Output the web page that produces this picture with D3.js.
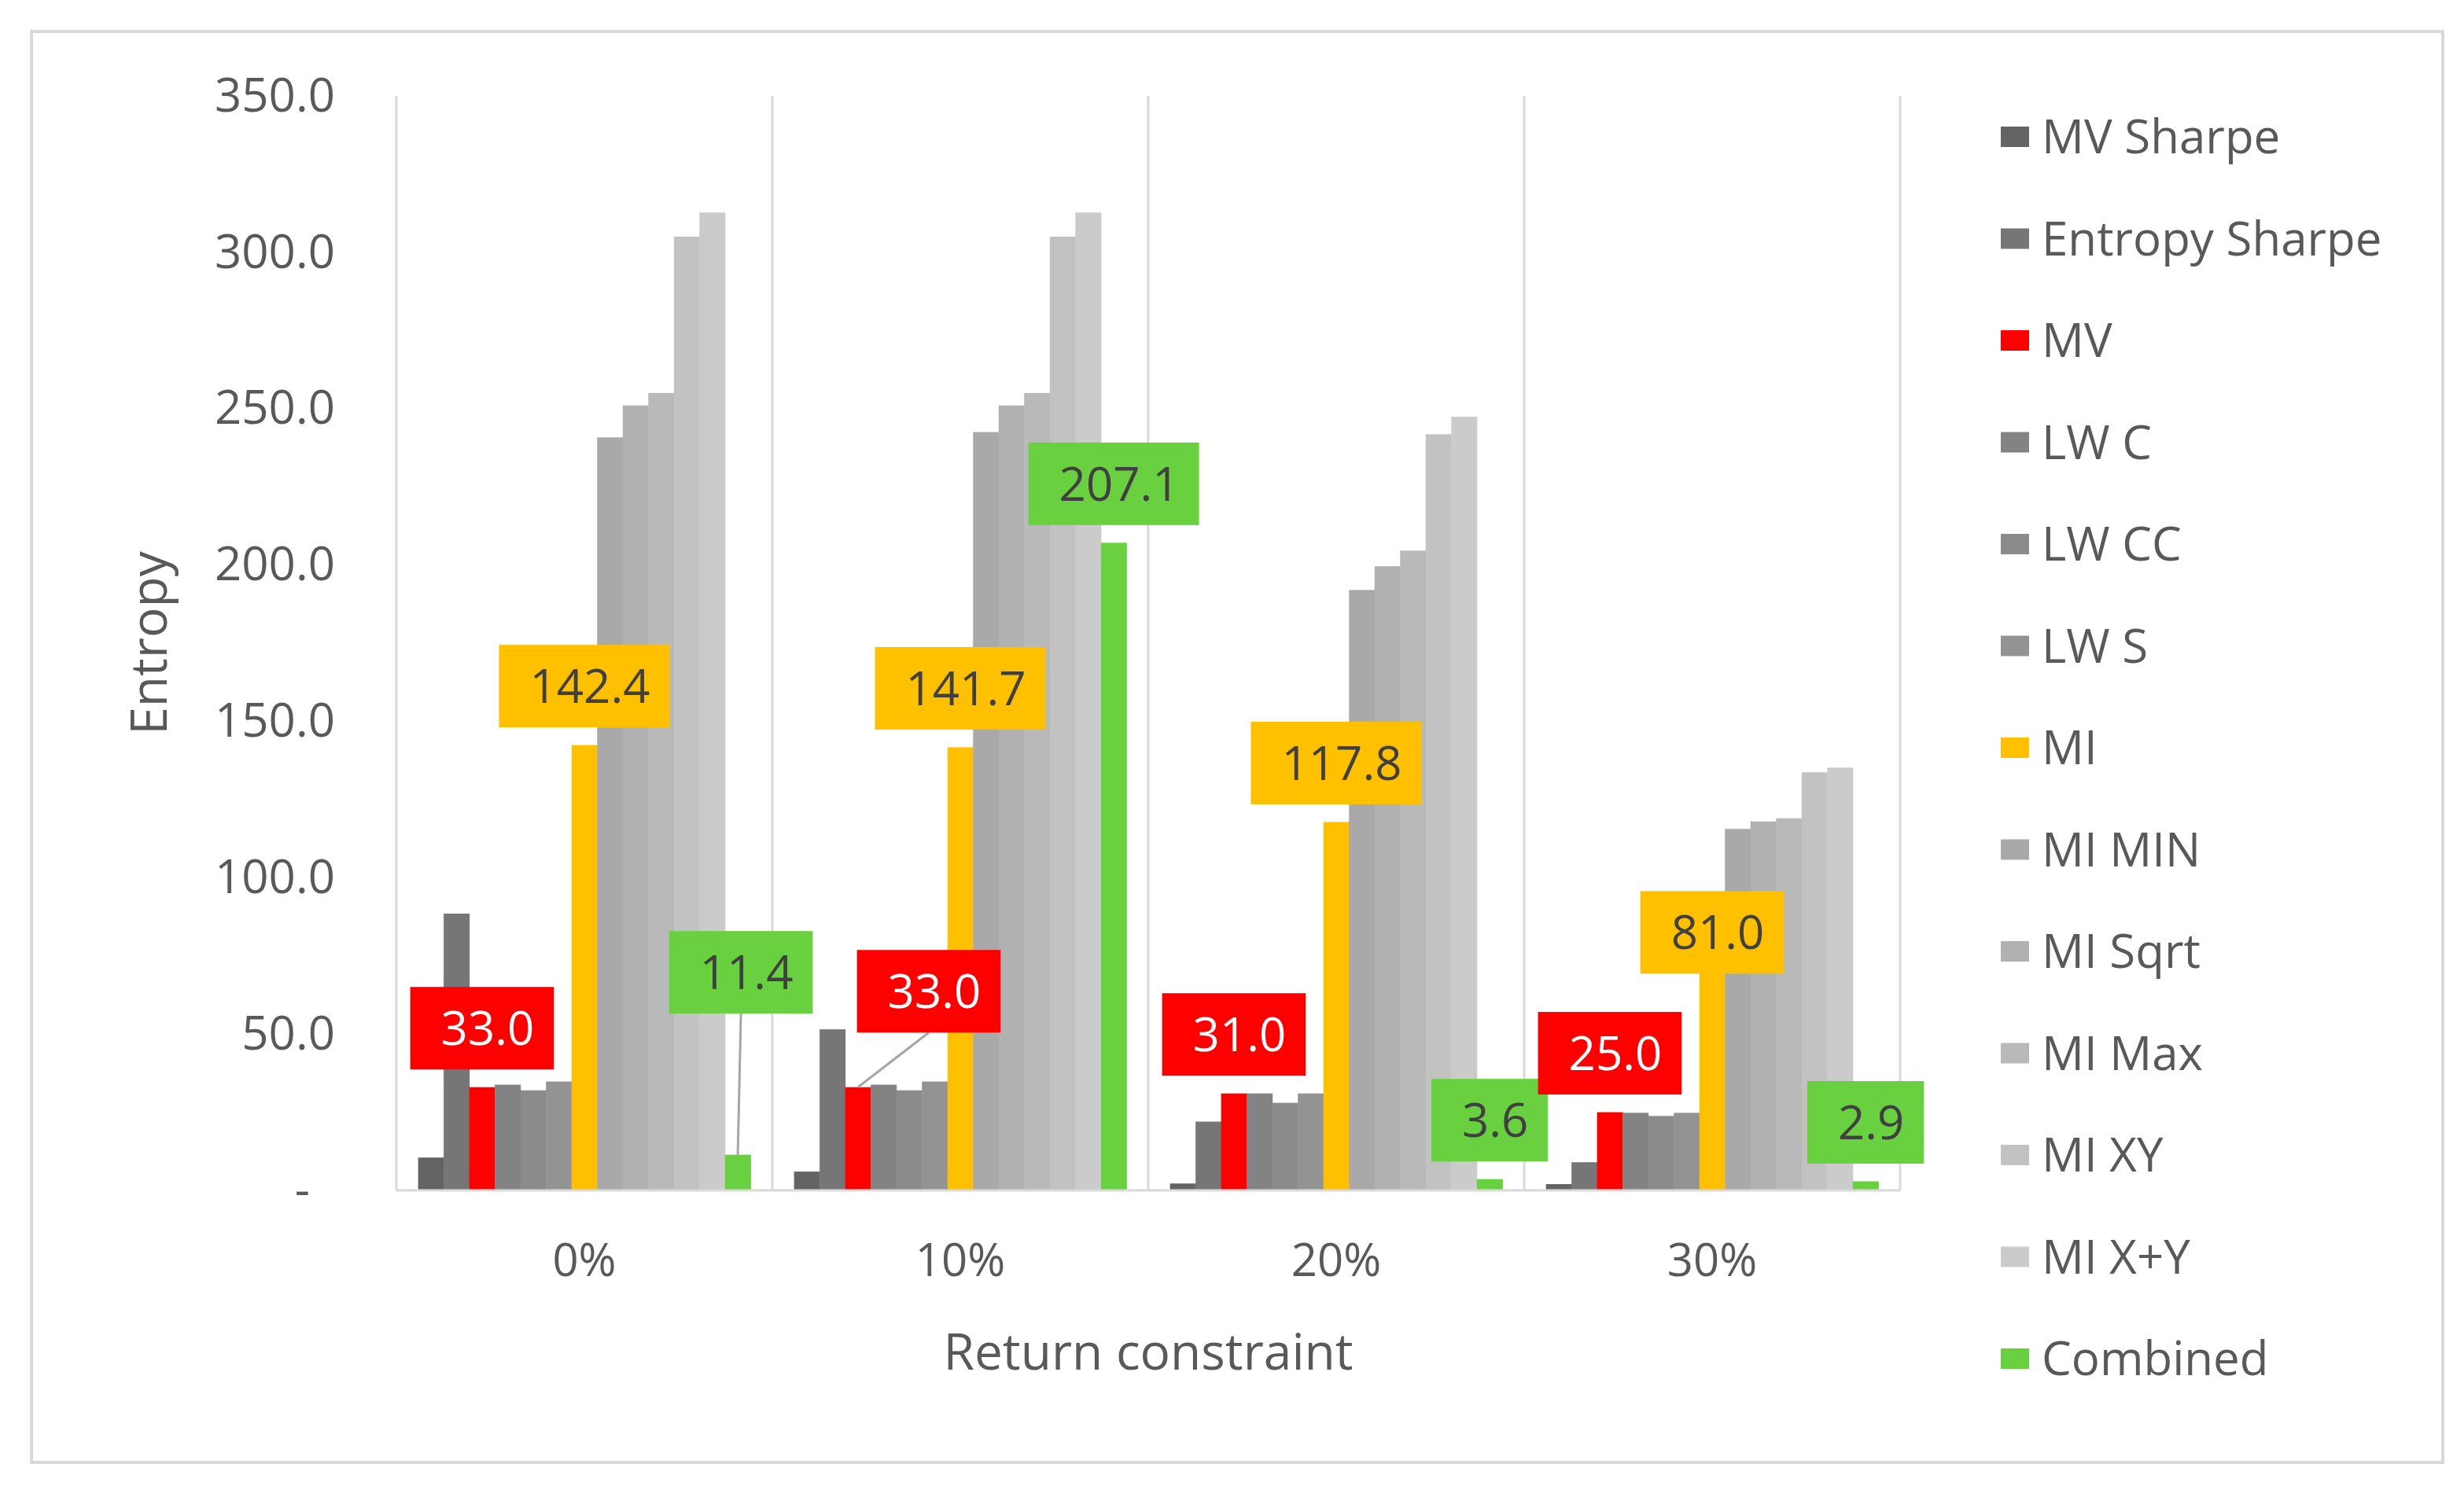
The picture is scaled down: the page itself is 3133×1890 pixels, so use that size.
<!DOCTYPE html>
<html>
<head>
<meta charset="utf-8">
<script src="https://cdn.jsdelivr.net/npm/d3@7"></script>
<style>
    body { margin: 0; background: #ffffff; }
    text { font-family: "Open Sans", "DejaVu Sans", sans-serif; fill: #595959; }
</style>
</head>
<body>
<div id="chart"></div>
<script>
// categories and series
var categories = ["0%", "10%", "20%", "30%"];
var seriesNames = ["MV Sharpe", "Entropy Sharpe", "MV", "LW C", "LW CC", "LW S",
    "MI", "MI MIN", "MI Sqrt", "MI Max", "MI XY", "MI X+Y", "Combined"];

// values per series, one per return constraint
var mvSharpe = [10.5, 6.0, 2.2, 2.0];
var entropySharpe = [88.5, 51.5, 22.0, 9.0];
var mv = [33.0, 33.0, 31.0, 25.0];
var lwC = [33.8, 33.8, 31.0, 24.8];
var lwCC = [32.0, 32.0, 28.0, 23.8];
var lwS = [34.8, 34.8, 31.0, 24.8];
var mi = [142.4, 141.7, 117.8, 81.0];
var miMin = [240.8, 242.5, 192.0, 115.6];
var miSqrt = [251.0, 251.0, 199.6, 118.0];
var miMax = [255.0, 255.0, 204.6, 119.0];
var miXY = [305.0, 305.0, 241.8, 133.7];
var miXplusY = [312.7, 312.7, 247.4, 135.2];
var combined = [11.4, 207.1, 3.6, 2.9];

var yTicks = [0, 50, 100, 150, 200, 250, 300, 350];

var seriesValues = [mvSharpe, entropySharpe, mv, lwC, lwCC, lwS,
    mi, miMin, miSqrt, miMax, miXY, miXplusY, combined];

var colors = ["#646464", "#767676", "#ff0000", "#838383", "#8b8b8b", "#939393",
    "#ffc000", "#a9a9a9", "#b1b1b1", "#b9b9b9", "#c2c2c2", "#cbcbcb", "#69d13f"];

// series that get a value callout
var labelled = ["MV", "MI", "Combined"];
// callouts that were dragged away from the default spot (px)
var calloutMoves = [
    { series: "Combined", category: "0%", dx: 4, lift: 232 },
    { series: "MV", category: "10%", dx: 90, lift: 122 },
    { series: "MI", category: "30%", dx: 0, lift: 6 }
];

//svg size and plot area
var svgWidth = 3133;
var svgHeight = 1890;
var plot = { left: 504, right: 2416, top: 122, bottom: 1514 };

var svg = d3.select("#chart")
    .append("svg")
    .attr("width", svgWidth)
    .attr("height", svgHeight);

// outer chart border
svg.append("rect")
    .attr("x", 40)
    .attr("y", 40)
    .attr("width", 3066)
    .attr("height", 1820)
    .attr("fill", "#ffffff")
    .attr("stroke", "#d9d9d9")
    .attr("stroke-width", 4);

// scales
var x0 = d3.scaleBand()
    .domain(categories)
    .range([plot.left, plot.right])
    .padding(0);

var x1 = d3.scaleBand()
    .domain(seriesNames)
    .range([0, x0.bandwidth()])
    .paddingInner(0)
    .paddingOuter(0.85);

var y = d3.scaleLinear()
    .domain([0, 350])
    .range([plot.bottom, plot.top]);

// vertical category separators
var separators = categories.map(c => x0(c)).concat([plot.right]);
svg.append("g")
    .selectAll("line")
    .data(separators)
    .enter()
    .append("line")
    .attr("x1", d => d)
    .attr("x2", d => d)
    .attr("y1", y(350))
    .attr("y2", y(0))
    .attr("stroke", "#d9d9d9")
    .attr("stroke-width", 3);

// y axis
var leftAxis = d3.axisLeft(y)
    .tickValues(yTicks)
    .tickSize(0)
    .tickPadding(78)
    .tickFormat(d => d === 0 ? "-" : d3.format(".1f")(d));

var yAxis = svg.append("g")
    .attr("transform", `translate(${plot.left}, 0)`)
    .call(leftAxis);
yAxis.select(".domain").remove();
yAxis.selectAll("text")
    .style("font-size", "60px")
    .attr("fill", "#595959")
    .attr("dx", d => d === 0 ? -32 : 0);

// x axis
var bottomAxis = d3.axisBottom(x0)
    .tickSize(0)
    .tickPadding(68);

var xAxis = svg.append("g")
    .attr("transform", `translate(0, ${plot.bottom})`)
    .call(bottomAxis);
xAxis.select(".domain").remove();
xAxis.selectAll("text")
    .style("font-size", "58px")
    .attr("fill", "#595959");

// bars
var table = categories.map((c, ci) => ({
    category: c,
    bars: seriesNames.map((s, si) => ({ series: s, value: seriesValues[si][ci], color: colors[si] }))
}));

var groups = svg.append("g")
    .selectAll("g")
    .data(table)
    .enter()
    .append("g")
    .attr("transform", d => `translate(${x0(d.category)}, 0)`);

groups.selectAll("rect")
    .data(d => d.bars)
    .enter()
    .append("rect")
    .attr("x", d => x1(d.series))
    .attr("y", d => y(d.value))
    .attr("width", x1.bandwidth() + 0.5)
    .attr("height", d => y(0) - y(d.value))
    .attr("fill", d => d.color);

// baseline
svg.append("line")
    .attr("x1", plot.left)
    .attr("x2", plot.right)
    .attr("y1", y(0))
    .attr("y2", y(0))
    .attr("stroke", "#d9d9d9")
    .attr("stroke-width", 3);

// value callouts
var callouts = [];
categories.forEach(function(c) {
    labelled.forEach(function(s) {
        var si = seriesNames.indexOf(s);
        var move = calloutMoves.find(m => m.series === s && m.category === c);
        var barX = x0(c) + x1(s) + x1.bandwidth() / 2;
        var barY = y(seriesValues[si][categories.indexOf(c)]);
        callouts.push({
            value: seriesValues[si][categories.indexOf(c)],
            color: colors[si],
            textColor: s === "MV" ? "#ffffff" : "#404040",
            barX: barX,
            barY: barY,
            cx: barX + (move ? move.dx : 0),
            cy: barY - (move ? move.lift : 75),
            leader: move ? move.lift > 100 : false
        });
    });
});

var boxHeight = 105;
var calloutGroup = svg.append("g");

// leader lines
calloutGroup.selectAll("line")
    .data(callouts.filter(d => d.leader))
    .enter()
    .append("line")
    .attr("x1", d => d.barX)
    .attr("y1", d => d.barY)
    .attr("x2", d => d.cx)
    .attr("y2", d => d.cy + boxHeight / 2)
    .attr("stroke", "#a6a6a6")
    .attr("stroke-width", 3);

var labelGroups = calloutGroup.selectAll("g")
    .data(callouts)
    .enter()
    .append("g");

labelGroups.append("rect")
    .attr("fill", d => d.color);

// text sits a little right of the box centre, as in the original callouts
labelGroups.append("text")
    .attr("x", d => d.cx + 7)
    .attr("y", d => d.cy)
    .attr("dy", "0.36em")
    .attr("text-anchor", "middle")
    .style("font-size", "60px")
    .style("fill", d => d.textColor)
    .text(d => d3.format(".1f")(d.value));

// size boxes to their text
labelGroups.each(function(d) {
    var g = d3.select(this);
    var w = g.select("text").node().getComputedTextLength() + 64;
    g.select("rect")
        .attr("x", d.cx - w / 2)
        .attr("y", d.cy - boxHeight / 2)
        .attr("width", w)
        .attr("height", boxHeight);
});

// axis titles
svg.append("text")
    .attr("transform", "translate(190, 818) rotate(-90)")
    .attr("text-anchor", "middle")
    .attr("dy", "0.35em")
    .style("font-size", "64px")
    .text("Entropy");

svg.append("text")
    .attr("x", (plot.left + plot.right) / 2)
    .attr("y", 1720)
    .attr("text-anchor", "middle")
    .attr("dy", "0.35em")
    .style("font-size", "64px")
    .text("Return constraint");

// legend
var legend = svg.append("g")
    .selectAll("g")
    .data(seriesNames)
    .enter()
    .append("g")
    .attr("transform", (d, i) => `translate(2544, ${174 + i * 129.5})`);

legend.append("rect")
    .attr("x", 0)
    .attr("y", -13)
    .attr("width", 36)
    .attr("height", 26)
    .attr("fill", (d, i) => colors[i]);

legend.append("text")
    .attr("x", 52)
    .attr("dy", "0.35em")
    .style("font-size", "60px")
    .text(d => d);
</script>
</body>
</html>
